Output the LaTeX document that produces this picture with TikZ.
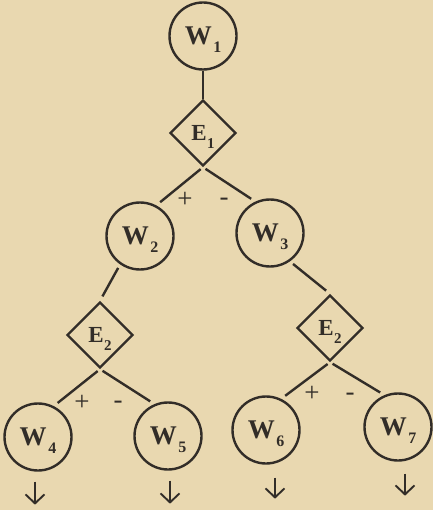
\documentclass[tikz,border=0pt]{standalone}
\usepackage{fontspec}
\setmainfont{Liberation Serif}
\usetikzlibrary{shapes.geometric,arrows.meta,calc}
\definecolor{paper}{RGB}{233,216,176}
\definecolor{ink}{RGB}{50,45,40}
\newcommand\wlab[1]{{\fontsize{27}{27}\selectfont\bfseries W}\kern1.5pt\raisebox{-8pt}[0pt][0pt]{\fontsize{16}{16}\selectfont\bfseries #1}}
\newcommand\elab[1]{{\fontsize{23}{23}\selectfont\bfseries E}\kern0.5pt\raisebox{-8pt}[0pt][0pt]{\fontsize{15}{15}\selectfont\bfseries #1}}
\begin{document}
\begin{tikzpicture}[x=1pt,y=-1pt,
 wnode/.style={circle,draw=ink,text=ink,line width=2.4pt,minimum size=67pt,inner sep=0pt},
 enode/.style={diamond,draw=ink,text=ink,line width=2.4pt,minimum width=66pt,minimum height=66pt,inner sep=0pt},
 conn/.style={draw=ink,line width=2.4pt,shorten <=3pt,shorten >=5pt},
 sign/.style={text=ink,inner sep=0pt,font=\fontsize{27}{27}\selectfont},
 outarrow/.style={draw=ink,line width=1.9pt,-{Straight Barb[length=9pt,width=19pt]}}]
\fill[paper] (0,0) rectangle (433,510);
\useasboundingbox (0,0) rectangle (433,510);
% nodes
\node[wnode] (W1) at (203,36) {\wlab{1}};
\node[enode] (E1) at (203,133) {\elab{1}};
\node[wnode] (W2) at (140,236) {\wlab{2}};
\node[wnode] (W3) at (270,233) {\wlab{3}};
\node[enode] (E2a) at (100,335) {\elab{2}};
\node[enode] (E2b) at (330,328) {\elab{2}};
\node[wnode] (W4) at (38,437) {\wlab{4}};
\node[wnode] (W5) at (168,436) {\wlab{5}};
\node[wnode] (W6) at (266,430) {\wlab{6}};
\node[wnode] (W7) at (398,427) {\wlab{7}};
% connectors
\draw[draw=ink,line width=2.4pt] (W1.south) -- (E1.north);
\draw[conn] (E1.south) -- (W2.62);
\draw[conn] (E1.south) -- (W3.115);
\draw[conn,shorten <=4pt] (W2.235) -- (E2a.north);
\draw[conn,shorten <=4pt] (W3.305) -- (E2b.north);
\draw[conn] (E2a.south) -- (W4.63);
\draw[conn] (E2a.south) -- (W5.113);
\draw[conn] (E2b.south) -- (W6.64);
\draw[conn] (E2b.south) -- (W7.113);
% signs
\node[sign] (p1) at ($(E1.south)+(-18,33)$) {+};
\node[sign] (m1) at ($(E1.south)+(21,35)$) {-};
\node[sign] (p2) at ($(E2a.south)+(-18,34)$) {+};
\node[sign] (m2) at ($(E2a.south)+(18,36)$) {-};
\node[sign] (p3) at ($(E2b.south)+(-18,32)$) {+};
\node[sign] (m3) at ($(E2b.south)+(20,35)$) {-};
% outgoing arrows
\draw[outarrow] ([yshift=-10pt,xshift=-3pt]W4.south) -- ++(0,23);
\draw[outarrow] ([yshift=-10pt,xshift=2pt]W5.south) -- ++(0,23);
\draw[outarrow] ([yshift=-13pt,xshift=9pt]W6.south) -- ++(0,21);
\draw[outarrow] ([yshift=-12pt,xshift=7pt]W7.south) -- ++(0,22);
\end{tikzpicture}
\end{document}
